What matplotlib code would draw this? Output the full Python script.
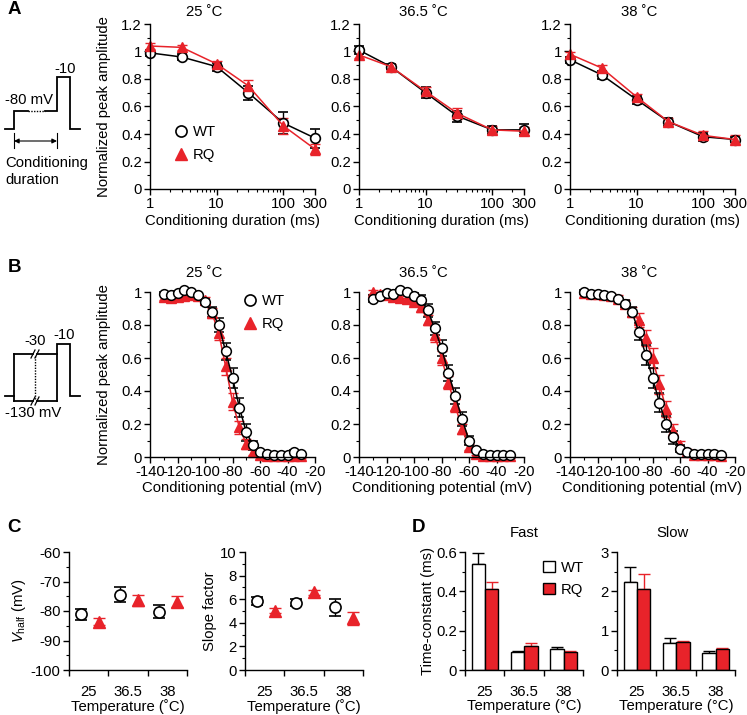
import matplotlib
matplotlib.use('Agg')
import matplotlib.pyplot as plt
from matplotlib.ticker import MultipleLocator, FuncFormatter, LogLocator, NullFormatter
from matplotlib.lines import Line2D
from matplotlib.patches import Patch

plt.rcParams['font.family'] = ['Liberation Sans', 'DejaVu Sans']
plt.rcParams['font.size'] = 10.7
plt.rcParams['mathtext.fontset'] = 'custom'
plt.rcParams['mathtext.rm'] = 'Liberation Sans'
plt.rcParams['mathtext.it'] = 'Liberation Sans:italic'
plt.rcParams['axes.linewidth'] = 1.0
plt.rcParams['axes.unicode_minus'] = False

RED = '#e8232a'
W, H = 747, 715

# ---- A: recovery vs conditioning duration
dur = [1, 3, 10, 30, 100, 300]
temps_title = ['25 \u02daC', '36.5 \u02daC', '38 \u02daC']
a_wt = [[0.99, 0.96, 0.89, 0.70, 0.48, 0.37],
        [1.01, 0.89, 0.70, 0.53, 0.43, 0.43],
        [0.94, 0.83, 0.65, 0.49, 0.38, 0.36]]
a_wt_err = [[0.02, 0.02, 0.03, 0.05, 0.08, 0.07],
            [0.03, 0.02, 0.04, 0.04, 0.03, 0.04],
            [0.02, 0.03, 0.03, 0.03, 0.03, 0.02]]
a_rq = [[1.04, 1.03, 0.91, 0.75, 0.46, 0.29],
        [0.975, 0.89, 0.71, 0.55, 0.43, 0.42],
        [0.98, 0.88, 0.67, 0.49, 0.39, 0.36]]
a_rq_err = [[0.02, 0.02, 0.02, 0.04, 0.06, 0.04],
            [0.02, 0.02, 0.03, 0.04, 0.03, 0.03],
            [0.02, 0.02, 0.02, 0.03, 0.03, 0.03]]

# ---- B: steady-state inactivation
volts = [-130, -125, -120, -115, -110, -105, -100, -95, -90, -85, -80,
         -75, -70, -65, -60, -55, -50, -45, -40, -35, -30]
b_wt = [[0.99, 0.98, 0.995, 1.01, 1.0, 0.98, 0.94, 0.88, 0.80, 0.64, 0.48,
         0.30, 0.15, 0.07, 0.03, 0.02, 0.015, 0.01, 0.015, 0.03, 0.02],
        [0.96, 0.975, 0.995, 0.99, 1.01, 1.0, 0.975, 0.95, 0.89, 0.78, 0.66,
         0.51, 0.37, 0.23, 0.10, 0.04, 0.02, 0.015, 0.015, 0.015, 0.01],
        [1.0, 0.99, 0.985, 0.98, 0.975, 0.96, 0.93, 0.88, 0.76, 0.62, 0.48,
         0.33, 0.20, 0.12, 0.05, 0.03, 0.02, 0.02, 0.02, 0.02, 0.01]]
b_wt_err = [[0.01, 0.01, 0.01, 0.01, 0.01, 0.01, 0.02, 0.03, 0.04, 0.05, 0.06,
             0.06, 0.05, 0.03, 0.01, 0.01, 0.01, 0.01, 0.01, 0.01, 0.01],
            [0.02, 0.01, 0.01, 0.01, 0.01, 0.01, 0.02, 0.03, 0.04, 0.04, 0.05,
             0.05, 0.05, 0.04, 0.03, 0.01, 0.01, 0.01, 0.01, 0.01, 0.01],
            [0.01, 0.01, 0.01, 0.01, 0.01, 0.01, 0.02, 0.03, 0.05, 0.06, 0.06,
             0.06, 0.05, 0.04, 0.02, 0.01, 0.01, 0.01, 0.01, 0.01, 0.01]]
b_rq = [[0.97, 0.965, 0.97, 0.975, 0.98, 0.975, 0.95, 0.875, 0.75, 0.55, 0.335,
         0.18, 0.08, 0.03, 0.01, 0.005, 0.005, 0.005, 0.005, 0.005, 0.005],
        [1.0, 0.99, 0.98, 0.97, 0.965, 0.955, 0.94, 0.91, 0.83, 0.74, 0.60,
         0.45, 0.31, 0.17, 0.06, 0.02, 0.005, 0.005, 0.005, 0.005, 0.005],
        [0.995, 0.99, 0.985, 0.98, 0.975, 0.96, 0.93, 0.88, 0.83, 0.72, 0.60,
         0.44, 0.29, 0.16, 0.07, 0.03, 0.01, 0.01, 0.01, 0.01, 0.005]]
b_rq_err = [[0.02, 0.02, 0.02, 0.02, 0.01, 0.01, 0.02, 0.03, 0.04, 0.05, 0.05,
             0.04, 0.03, 0.02, 0.01, 0.01, 0.01, 0.01, 0.01, 0.01, 0.01],
            [0.01, 0.01, 0.02, 0.02, 0.02, 0.02, 0.02, 0.03, 0.03, 0.04, 0.04,
             0.04, 0.04, 0.03, 0.02, 0.01, 0.01, 0.01, 0.01, 0.01, 0.01],
            [0.01, 0.01, 0.01, 0.01, 0.01, 0.02, 0.02, 0.03, 0.04, 0.05, 0.06,
             0.06, 0.05, 0.04, 0.03, 0.02, 0.01, 0.01, 0.01, 0.01, 0.01]]

# ---- C: Boltzmann parameters
temps = ['25', '36.5', '38']
vhalf_wt = [-81.1, -74.5, -80.2]
vhalf_wt_err = [1.8, 2.6, 2.2]
vhalf_rq = [-83.6, -76.4, -76.8]
vhalf_rq_err = [1.3, 1.9, 2.0]
slope_wt = [5.86, 5.7, 5.3]
slope_wt_err = [0.35, 0.3, 0.7]
slope_rq = [5.04, 6.57, 4.4]
slope_rq_err = [0.2, 0.2, 0.55]

# ---- D: time constants
fast_wt = [0.541, 0.09, 0.105]
fast_wt_err = [0.054, 0.007, 0.011]
fast_rq = [0.412, 0.121, 0.092]
fast_rq_err = [0.034, 0.018, 0.003]
slow_wt = [2.23, 0.68, 0.42]
slow_wt_err = [0.39, 0.13, 0.06]
slow_rq = [2.05, 0.70, 0.53]
slow_rq_err = [0.39, 0.05, 0.02]


def px_axes(fig, x0, y0, x1, y1):
    return fig.add_axes([x0 / W, 1 - y1 / H, (x1 - x0) / W, (y1 - y0) / H])


def style(ax):
    ax.spines['top'].set_visible(False)
    ax.spines['right'].set_visible(False)
    ax.tick_params(direction='out', length=4, width=1, pad=2)
    ax.tick_params(which='minor', length=2.5, width=0.8)


def noclip(ax):
    for a in ax.lines + list(ax.collections):
        a.set_clip_on(False)


gfmt = FuncFormatter(lambda v, p: '%g' % round(v, 3))
lefts = [150, 359, 570]
title_x = [0.33, 0.39, 0.42]

fig = plt.figure(figsize=(W / 100, H / 100), dpi=100)

h_wt = Line2D([], [], marker='o', ls='none', mfc='white', mec='k', mew=1.2, ms=8)
h_rq = Line2D([], [], marker='^', ls='none', mfc=RED, mec=RED, ms=8)

# panel A
for i in range(3):
    ax = px_axes(fig, lefts[i], 24, lefts[i] + 165, 189)
    style(ax)
    ax.errorbar(dur, a_wt[i], yerr=a_wt_err[i], fmt='-o', color='k', mfc='white',
                mec='k', mew=1.2, ms=7, lw=1.1, capsize=3.5, elinewidth=1, capthick=1)
    ax.errorbar(dur, a_rq[i], yerr=a_rq_err[i], fmt='-^', color=RED, ms=7.5,
                lw=1.1, capsize=3.5, elinewidth=1, capthick=1)
    ax.set_xscale('log')
    ax.set_xlim(1, 300)
    ax.set_ylim(0, 1.2)
    ax.set_xticks([1, 10, 100, 300])
    ax.set_xticklabels(['1', '10', '100', '300'])
    ax.xaxis.set_minor_locator(LogLocator(subs=range(2, 10)))
    ax.xaxis.set_minor_formatter(NullFormatter())
    ax.yaxis.set_major_locator(MultipleLocator(0.2))
    ax.yaxis.set_minor_locator(MultipleLocator(0.1))
    ax.yaxis.set_major_formatter(gfmt)
    ax.set_xlabel('Conditioning duration (ms)', labelpad=2)
    ax.text(title_x[i], 1 + 12 / 165, temps_title[i], transform=ax.transAxes,
            ha='center', va='center')
    if i == 0:
        ax.set_ylabel('Normalized peak amplitude', labelpad=7)
        ax.legend([h_wt, h_rq], ['WT', 'RQ'], loc='upper left',
                  bbox_to_anchor=(0.06, 0.47), frameon=False, handlelength=1.0,
                  handletextpad=0.3, labelspacing=0.65)
    noclip(ax)

# panel B
for i in range(3):
    ax = px_axes(fig, lefts[i], 292, lefts[i] + 165, 457)
    style(ax)
    ax.errorbar(volts, b_rq[i], yerr=b_rq_err[i], fmt='-^', color=RED, ms=6.5,
                lw=1.1, capsize=3.5, elinewidth=1, capthick=1)
    ax.errorbar(volts, b_wt[i], yerr=b_wt_err[i], fmt='-o', color='k', mfc='white',
                mec='k', mew=1.1, ms=7, lw=1.1, capsize=3.5, elinewidth=1, capthick=1)
    ax.set_xlim(-140, -20)
    ax.set_ylim(0, 1)
    ax.xaxis.set_major_locator(MultipleLocator(20))
    ax.xaxis.set_minor_locator(MultipleLocator(10))
    ax.yaxis.set_major_locator(MultipleLocator(0.2))
    ax.yaxis.set_minor_locator(MultipleLocator(0.1))
    ax.yaxis.set_major_formatter(gfmt)
    ax.xaxis.set_major_formatter(gfmt)
    ax.set_xlabel('Conditioning potential (mV)', labelpad=1)
    ax.text(title_x[i], 1 + 19 / 165, temps_title[i], transform=ax.transAxes,
            ha='center', va='center')
    if i == 0:
        ax.set_ylabel('Normalized peak amplitude', labelpad=7)
        ax.legend([h_wt, h_rq], ['WT', 'RQ'], loc='upper left',
                  bbox_to_anchor=(0.48, 1.07), frameon=False, handlelength=1.0,
                  handletextpad=0.3, labelspacing=0.65)
    noclip(ax)

# panel C
grp = [0, 1, 2]
c_specs = [(69, vhalf_wt, vhalf_wt_err, vhalf_rq, vhalf_rq_err, (-100, -60), 10, 5,
            r'$V_{\rm half}$ (mV)'),
           (245, slope_wt, slope_wt_err, slope_rq, slope_rq_err, (0, 10), 2, 1,
            'Slope factor')]
for left, wt, wte, rq, rqe, ylim, maj, mnr, ylab in c_specs:
    ax = px_axes(fig, left, 552, left + 118, 670)
    style(ax)
    ax.errorbar([g + 0.3 for g in grp], wt, yerr=wte, fmt='o', color='k', mfc='white',
                mec='k', mew=1.2, ms=8, capsize=4, elinewidth=1, capthick=1)
    ax.errorbar([g + 0.75 for g in grp], rq, yerr=rqe, fmt='^', color=RED, ms=8,
                capsize=4, elinewidth=1, capthick=1)
    ax.set_xlim(0, 3)
    ax.set_ylim(*ylim)
    ax.yaxis.set_major_locator(MultipleLocator(maj))
    ax.yaxis.set_minor_locator(MultipleLocator(mnr))
    ax.yaxis.set_major_formatter(gfmt)
    ax.set_xticks([0, 1, 2, 3])
    ax.set_xticklabels([])
    ax.set_xticks([0.5, 1.5, 2.5], minor=True)
    ax.set_xticklabels(temps, minor=True)
    ax.tick_params(axis='x', which='minor', length=0, pad=10.5)
    ax.set_xlabel('Temperature (\u02daC)', labelpad=0.5)
    ax.set_ylabel(ylab, labelpad=2)
    noclip(ax)

# panel D
d_specs = [(465, fast_wt, fast_wt_err, fast_rq, fast_rq_err, 0.6, 0.2, 0.1, 'Fast', 0.5),
           (617, slow_wt, slow_wt_err, slow_rq, slow_rq_err, 3, 1, 0.5, 'Slow', 0.47)]
for j, (left, wt, wte, rq, rqe, top, maj, mnr, ttl, tx) in enumerate(d_specs):
    ax = px_axes(fig, left, 552, left + 118, 670)
    style(ax)
    xw = [g + 0.34 for g in grp]
    xr = [g + 0.68 for g in grp]
    ax.errorbar(xw, wt, yerr=[[0, 0, 0], wte], fmt='none', ecolor='k', capsize=4,
                elinewidth=1, capthick=1, zorder=1)
    ax.errorbar(xr, rq, yerr=[[0, 0, 0], rqe], fmt='none', ecolor=RED, capsize=4,
                elinewidth=1, capthick=1, zorder=1)
    ax.bar(xw, wt, width=0.34, color='white', edgecolor='k', lw=1, zorder=2)
    ax.bar(xr, rq, width=0.34, color=RED, edgecolor='k', lw=1, zorder=2)
    ax.set_xlim(0, 3)
    ax.set_ylim(0, top)
    ax.yaxis.set_major_locator(MultipleLocator(maj))
    ax.yaxis.set_minor_locator(MultipleLocator(mnr))
    ax.yaxis.set_major_formatter(gfmt)
    ax.set_xticks([0, 1, 2, 3])
    ax.set_xticklabels([])
    ax.set_xticks([0.5, 1.5, 2.5], minor=True)
    ax.set_xticklabels(temps, minor=True)
    ax.tick_params(axis='x', which='minor', length=0, pad=10.5)
    ax.set_xlabel('Temperature (\u00b0C)', labelpad=0.5)
    ax.text(tx, 1 + 19 / 118, ttl, transform=ax.transAxes, ha='center', va='center')
    if j == 0:
        ax.set_ylabel('Time-constant (ms)', labelpad=1)
        ax.legend([Patch(fc='white', ec='k', lw=1), Patch(fc=RED, ec='k', lw=1)],
                  ['WT', 'RQ'], loc='upper left', bbox_to_anchor=(0.55, 1.04),
                  frameon=False, handlelength=0.8, handleheight=0.8,
                  handletextpad=0.4, labelspacing=0.55)
    noclip(ax)

# overlay for panel letters and protocol schematics (pixel coordinates)
ov = fig.add_axes([0, 0, 1, 1])
ov.set_xlim(0, W)
ov.set_ylim(H, 0)
ov.axis('off')
ov.patch.set_alpha(0)
for lab, x, y in [('A', 8, 10), ('B', 8, 267), ('C', 7, 527), ('D', 412, 527)]:
    ov.text(x, y, lab, fontsize=13.5, fontweight='bold', ha='left', va='center')

kw = dict(color='k', lw=1.3, solid_joinstyle='miter')
# A protocol
ov.plot([5, 14, 14, 28], [129, 129, 111, 111], **kw)
ov.plot([28, 45], [111, 111], color='k', lw=1.0, ls=(0, (1, 1)))
ov.plot([45, 57, 57, 70, 70, 80], [111, 111, 77, 77, 129, 129], **kw)
ov.plot([14, 14], [133, 148], color='k', lw=0.8)
ov.plot([57, 57], [133, 148], color='k', lw=0.8)
ov.annotate('', xy=(14, 141), xytext=(57, 141),
            arrowprops=dict(arrowstyle='<|-|>', color='k', lw=0.8,
                            shrinkA=0, shrinkB=0, mutation_scale=7))
ov.text(5, 100, '-80 mV', ha='left', va='center')
ov.text(65, 69, '-10', ha='center', va='center')
ov.text(5, 163, 'Conditioning', ha='left', va='center')
ov.text(5, 180, 'duration', ha='left', va='center')

# B protocol
ov.plot([5, 14], [396, 396], **kw)
ov.plot([14, 14], [354, 401], **kw)
ov.plot([14, 33], [354, 354], **kw)
ov.plot([37, 57], [354, 354], **kw)
ov.plot([14, 33], [401, 401], **kw)
ov.plot([37, 57], [401, 401], **kw)
ov.plot([57, 57, 70, 70, 80], [401, 344, 344, 396, 396], **kw)
ov.plot([35, 35], [356, 399], color='k', lw=1.0, ls=(0, (1, 1)))
for yb in [354, 401]:
    ov.plot([31, 35], [yb + 4, yb - 4], color='k', lw=0.9)
    ov.plot([35, 39], [yb + 4, yb - 4], color='k', lw=0.9)
ov.text(35, 341, '-30', ha='center', va='center')
ov.text(64, 335, '-10', ha='center', va='center')
ov.text(5, 413, '-130 mV', ha='left', va='center')

fig.savefig('out.png', dpi=100)
